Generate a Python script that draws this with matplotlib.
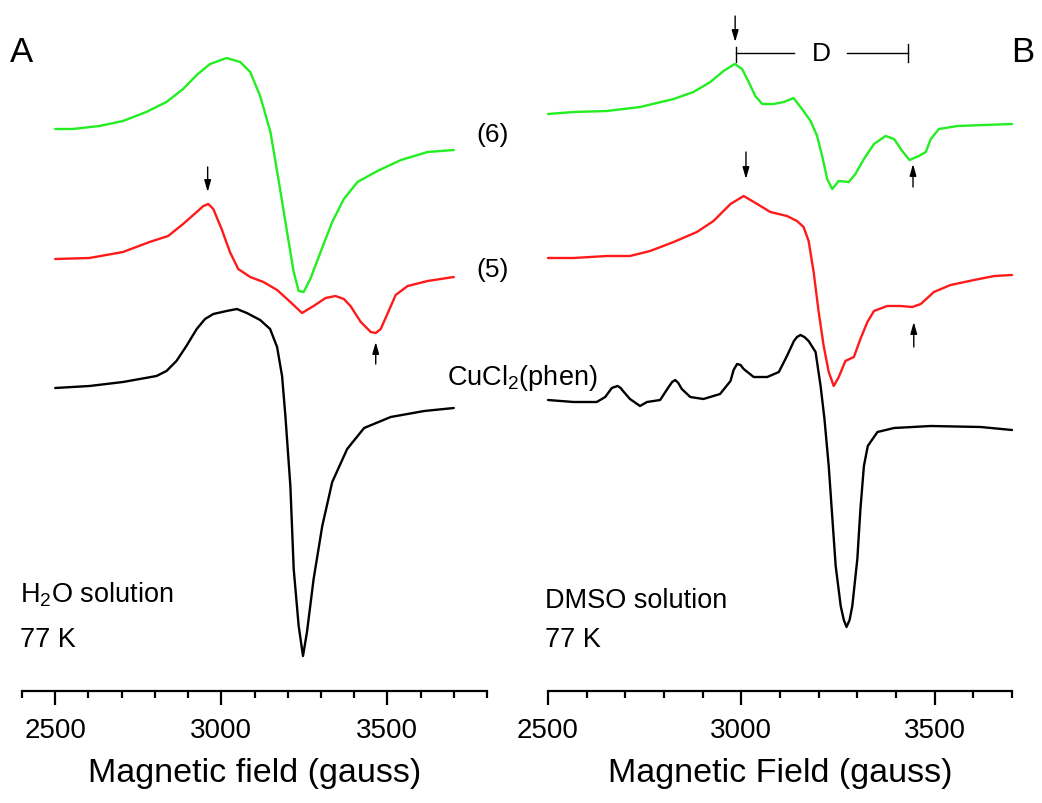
import matplotlib
matplotlib.use("Agg")
import matplotlib.pyplot as plt
from matplotlib.ticker import MultipleLocator, FixedLocator

plt.rcParams['font.family'] = ['Liberation Sans', 'DejaVu Sans']
plt.rcParams['mathtext.fontset'] = 'custom'
plt.rcParams['mathtext.rm'] = 'Liberation Sans'
plt.rcParams['mathtext.it'] = 'Liberation Sans:italic'

# ---------------- Panel A (H2O solution) ----------------
a_green_field = [2500, 2552, 2633, 2704, 2774, 2835, 2885, 2926, 2966, 3016, 3057, 3087,
                 3117, 3148, 3172, 3198, 3218, 3233, 3248, 3268, 3299, 3334, 3369, 3410,
                 3470, 3541, 3621, 3700]
a_green_int = [0, 0, 3, 8, 17, 27, 40, 54, 65, 71, 67, 57,
               33, -3, -50, -103, -143, -162, -163, -150, -123, -93, -70, -53,
               -42, -31, -23, -21]

a_red_field = [2500, 2603, 2704, 2784, 2840, 2885, 2926, 2946, 2961, 2976, 3001, 3026,
               3051, 3087, 3127, 3168, 3208, 3243, 3278, 3314, 3344, 3369, 3389, 3420,
               3450, 3465, 3480, 3500, 3525, 3561, 3621, 3700]
a_red_int = [0, 1, 7, 17, 23, 35, 47, 53, 55, 50, 30, 7,
             -10, -18, -23, -31, -43, -54, -47, -39, -37, -40, -47, -63,
             -73, -74, -70, -55, -36, -27, -22, -18]

a_black_field = [2500, 2603, 2704, 2805, 2835, 2865, 2895, 2926, 2951, 2976, 3016, 3047,
                 3077, 3117, 3147, 3168, 3183, 3193, 3208, 3218, 3233, 3246, 3258, 3278,
                 3304, 3334, 3379, 3430, 3510, 3611, 3700]
a_black_int = [0, 2, 6, 12, 17, 27, 42, 59, 69, 74, 77, 79,
               75, 68, 59, 41, 12, -28, -98, -181, -238, -268, -244, -191,
               -138, -94, -61, -40, -29, -23, -20]

# ---------------- Panel B (DMSO solution) ----------------
b_green_field = [2500, 2566, 2652, 2738, 2825, 2876, 2920, 2954, 2983, 3002, 3019, 3036,
                 3054, 3084, 3110, 3135, 3157, 3179, 3196, 3209, 3222, 3235, 3252, 3278,
                 3295, 3317, 3343, 3373, 3395, 3416, 3435, 3459, 3477, 3490, 3511, 3559,
                 3628, 3700]
b_green_int = [0, 2, 3, 7, 15, 22, 32, 43, 50, 45, 32, 18,
               10, 10, 12, 16, 5, -7, -22, -42, -65, -75, -67, -68,
               -60, -45, -30, -22, -25, -37, -46, -42, -38, -25, -15, -12,
               -11, -10]

b_red_field = [2500, 2566, 2652, 2712, 2764, 2825, 2885, 2928, 2972, 3006, 3041, 3075,
               3118, 3144, 3161, 3174, 3187, 3200, 3213, 3226, 3239, 3252, 3269, 3291,
               3308, 3326, 3343, 3377, 3412, 3442, 3464, 3498, 3541, 3602, 3654, 3700]
b_red_int = [1, 1, 3, 3, 8, 17, 27, 38, 55, 63, 55, 47,
             43, 38, 32, 18, -13, -53, -87, -113, -127, -118, -102, -98,
             -80, -63, -52, -47, -47, -48, -45, -33, -26, -21, -17, -16]

b_black_field = [2500, 2566, 2626, 2648, 2665, 2672, 2680, 2688, 2694, 2712, 2738, 2756,
                 2790, 2812, 2821, 2829, 2837, 2846, 2868, 2902, 2945, 2972, 2980, 2989,
                 2998, 3006, 3032, 3067, 3097, 3118, 3136, 3144, 3153, 3163, 3174, 3192,
                 3205, 3215, 3226, 3235, 3244, 3257, 3265, 3272, 3280, 3287, 3300, 3308,
                 3317, 3327, 3352, 3395, 3490, 3619, 3700]
b_black_int = [1, -1, -1, 4, 13, 14, 15, 13, 10, 2, -5, -1,
               1, 14, 19, 21, 18, 12, 4, 2, 7, 20, 31, 37,
               36, 32, 24, 24, 29, 45, 60, 64, 66, 64, 60, 49,
               15, -18, -65, -115, -165, -205, -219, -226, -219, -205, -158, -108,
               -65, -45, -31, -27, -25, -26, -29]

# vertical offsets of the stacked traces (plot units)
a_offsets = {'green': 562, 'red': 432, 'black': 303}
b_offsets = {'green': 577, 'red': 432, 'black': 290}

tick_major = [2500, 3000, 3500]

W, H = 1042, 804
fig = plt.figure(figsize=(W / 100, H / 100), dpi=100)

axA = fig.add_axes([22 / W, (H - 692) / H, 465 / W, 692 / H])
axB = fig.add_axes([548 / W, (H - 692) / H, 464 / W, 692 / H])

lw = 1.7
cols = {'green': '#22ee22', 'red': '#ff1a1a', 'black': '#000000'}


def off(vals, o):
    return [v + o for v in vals]


line_kw = dict(lw=lw, clip_on=False, solid_joinstyle='round', solid_capstyle='round')
axA.plot(a_green_field, off(a_green_int, a_offsets['green']), color=cols['green'], **line_kw)
axA.plot(a_red_field, off(a_red_int, a_offsets['red']), color=cols['red'], **line_kw)
axA.plot(a_black_field, off(a_black_int, a_offsets['black']), color=cols['black'], **line_kw)

axB.plot(b_green_field, off(b_green_int, b_offsets['green']), color=cols['green'], **line_kw)
axB.plot(b_red_field, off(b_red_int, b_offsets['red']), color=cols['red'], **line_kw)
axB.plot(b_black_field, off(b_black_int, b_offsets['black']), color=cols['black'], **line_kw)

axA.set_xlim(2400, 3800)
axB.set_xlim(2500, 3700)

for ax, lab in ((axA, 'Magnetic field (gauss)'), (axB, 'Magnetic Field (gauss)')):
    ax.set_ylim(0, 692)
    for s in ('left', 'right', 'top'):
        ax.spines[s].set_visible(False)
    ax.spines['bottom'].set_linewidth(1.6)
    ax.set_yticks([])
    ax.xaxis.set_major_locator(FixedLocator(tick_major))
    ax.xaxis.set_minor_locator(MultipleLocator(100))
    ax.tick_params(axis='x', which='major', length=10, width=1.6, labelsize=20, pad=8.5)
    ax.tick_params(axis='x', which='minor', length=5, width=1.6)
    ax.set_xlabel(lab, fontsize=24.5, labelpad=10.5)
    ax.patch.set_alpha(0)

# arrows
arrow_kw = dict(arrowstyle='-|>,head_length=0.7,head_width=0.2', color='black', lw=1.0,
                shrinkA=0, shrinkB=0)
a_arrows = [(2959, 524, 499), (3465, 327, 349)]
b_arrows = [(2984, 675, 649), (3012, 539, 512), (3444, 504, 527), (3446, 344, 369)]
for g, y0, y1 in a_arrows:
    axA.annotate('', xy=(g, y1), xytext=(g, y0), arrowprops=arrow_kw, annotation_clip=False)
for g, y0, y1 in b_arrows:
    axB.annotate('', xy=(g, y1), xytext=(g, y0), arrowprops=arrow_kw, annotation_clip=False)

# D bracket
axB.plot([2987, 3135], [638, 638], color='black', lw=1.0, clip_on=False)
axB.plot([3272, 3431], [638, 638], color='black', lw=1.0, clip_on=False)
axB.plot([2987, 2987], [629, 644], color='black', lw=1.0, clip_on=False)
axB.plot([3431, 3431], [629, 647], color='black', lw=1.0, clip_on=False)
axB.text(3206, 638, 'D', fontsize=19, ha='center', va='center')

# labels
axA.text(3767, 557, '(6)', fontsize=19, ha='left', va='center')
axA.text(3767, 422, '(5)', fontsize=19, ha='left', va='center')

fig.text(21.5 / W, 1 - 52.5 / H, 'A', fontsize=25, ha='center', va='center')
fig.text(1023 / W, 1 - 52.5 / H, 'B', fontsize=25, ha='center', va='center')
fig.text(447 / W, 1 - 385 / H, r'CuCl$_\mathregular{2}$(phen)', fontsize=19.5, ha='left', va='baseline')
fig.text(20 / W, 1 - 603 / H, r'H$_\mathregular{2}$O solution', fontsize=19.5, ha='left', va='baseline')
fig.text(20 / W, 1 - 647 / H, '77 K', fontsize=19.5, ha='left', va='baseline')
fig.text(545 / W, 1 - 608 / H, 'DMSO solution', fontsize=19.5, ha='left', va='baseline')
fig.text(545 / W, 1 - 647 / H, '77 K', fontsize=19.5, ha='left', va='baseline')

fig.savefig('out.png', dpi=100, facecolor='white')
